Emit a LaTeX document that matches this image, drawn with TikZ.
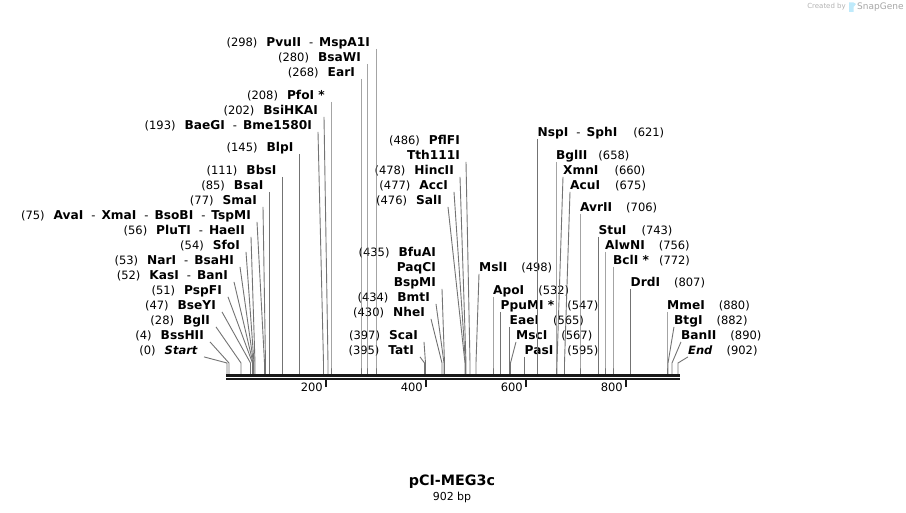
\documentclass[tikz,border=0pt]{standalone}
\usepackage{fontspec}
\setmainfont{DejaVu Sans}[BoldFeatures={Scale=1.06}]
\usetikzlibrary{positioning}

\begin{document}
\begin{tikzpicture}[x=1pt,y=-1pt,
	lab/.style={inner sep=0pt,text height=8.4pt,text depth=0pt,font=\fontsize{11.5}{13}\selectfont},
	lft/.style={lab,anchor=east},
	rgt/.style={lab,anchor=west},
	site/.style={draw=black!55,line width=0.9pt},
	tick/.style={draw=black!90,line width=1.3pt}]
	\useasboundingbox (0,0) rectangle (906,513);
	\coordinate (knee) at (0,363);
	\coordinate (b0) at (227,374);
	\coordinate (b4) at (229,374);
	\coordinate (b28) at (241,374);
	\coordinate (b47) at (250.5,374);
	\coordinate (b51) at (252.5,374);
	\coordinate (b52) at (253,374);
	\coordinate (b53) at (253.5,374);
	\coordinate (b54) at (254,374);
	\coordinate (b56) at (255,374);
	\coordinate (b75) at (264.5,374);
	\coordinate (b77) at (265.5,374);
	\coordinate (b85) at (269.5,374);
	\coordinate (b111) at (282.5,374);
	\coordinate (b145) at (299.5,374);
	\coordinate (b193) at (323.5,374);
	\coordinate (b202) at (328,374);
	\coordinate (b208) at (331,374);
	\coordinate (b268) at (361,374);
	\coordinate (b280) at (367,374);
	\coordinate (b298) at (376,374);
	\coordinate (b395) at (424.5,374);
	\coordinate (b397) at (425.5,374);
	\coordinate (b430) at (442,374);
	\coordinate (b434) at (444,374);
	\coordinate (b435) at (444.5,374);
	\coordinate (b476) at (465,374);
	\coordinate (b477) at (465.5,374);
	\coordinate (b478) at (466,374);
	\coordinate (b486) at (470,374);
	\coordinate (b498) at (476,374);
	\coordinate (b532) at (493,374);
	\coordinate (b547) at (500.5,374);
	\coordinate (b565) at (509.5,374);
	\coordinate (b567) at (510.5,374);
	\coordinate (b595) at (524.5,374);
	\coordinate (b621) at (537.5,374);
	\coordinate (b658) at (556,374);
	\coordinate (b660) at (557,374);
	\coordinate (b675) at (564.5,374);
	\coordinate (b706) at (580,374);
	\coordinate (b743) at (598.5,374);
	\coordinate (b756) at (605,374);
	\coordinate (b772) at (613,374);
	\coordinate (b807) at (630.5,374);
	\coordinate (b880) at (667,374);
	\coordinate (b882) at (668,374);
	\coordinate (b890) at (672,374);
	\coordinate (b902) at (678,374);

	\node[lft] (pvuII) at (370,42) {(298)\hspace{9pt}\textbf{PvuII}\hspace{8pt}-\hspace{6pt}\textbf{MspA1I}};
	\node[lft] (bsaWI) at (361,57) {(280)\hspace{9pt}\textbf{BsaWI}};
	\node[lft] (earI) at (355,72) {(268)\hspace{9pt}\textbf{EarI}};
	\node[lft] (pfoI) at (325,95) {(208)\hspace{9pt}\textbf{PfoI *}};
	\node[lft] (bsiHKAI) at (318,110) {(202)\hspace{9pt}\textbf{BsiHKAI}};
	\node[lft] (baeGI) at (312,125) {(193)\hspace{9pt}\textbf{BaeGI}\hspace{8pt}-\hspace{6pt}\textbf{Bme1580I}};
	\node[lft] (blpI) at (293.5,147) {(145)\hspace{9pt}\textbf{BlpI}};
	\node[lft] (bbsI) at (276.5,170) {(111)\hspace{9pt}\textbf{BbsI}};
	\node[lft] (bsaI) at (263.5,185) {(85)\hspace{9pt}\textbf{BsaI}};
	\node[lft] (smaI) at (257,200) {(77)\hspace{9pt}\textbf{SmaI}};
	\node[lft] (avaI) at (251,215) {(75)\hspace{9pt}\textbf{AvaI}\hspace{8pt}-\hspace{6pt}\textbf{XmaI}\hspace{8pt}-\hspace{6pt}\textbf{BsoBI}\hspace{8pt}-\hspace{6pt}\textbf{TspMI}};
	\node[lft] (pluTI) at (245,230) {(56)\hspace{9pt}\textbf{PluTI}\hspace{8pt}-\hspace{6pt}\textbf{HaeII}};
	\node[lft] (sfoI) at (240,245) {(54)\hspace{9pt}\textbf{SfoI}};
	\node[lft] (narI) at (234,260) {(53)\hspace{9pt}\textbf{NarI}\hspace{8pt}-\hspace{6pt}\textbf{BsaHI}};
	\node[lft] (kasI) at (228,275) {(52)\hspace{9pt}\textbf{KasI}\hspace{8pt}-\hspace{6pt}\textbf{BanI}};
	\node[lft] (pspFI) at (222,290) {(51)\hspace{9pt}\textbf{PspFI}};
	\node[lft] (bseYI) at (216,305) {(47)\hspace{9pt}\textbf{BseYI}};
	\node[lft] (bglI) at (210,320) {(28)\hspace{9pt}\textbf{BglI}};
	\node[lft] (bssHII) at (204,335) {(4)\hspace{9pt}\textbf{BssHII}};
	\node[lft] (first) at (198,350) {(0)\hspace{9pt}\textbf{\itshape Start}};

	\node[lft] (pflFI) at (460,140) {(486)\hspace{9pt}\textbf{PflFI}};
	\node[lft] (tth111I) at (460,155) {\textbf{Tth111I}};
	\node[lft] (hincII) at (454,170) {(478)\hspace{9pt}\textbf{HincII}};
	\node[lft] (accI) at (448,185) {(477)\hspace{9pt}\textbf{AccI}};
	\node[lft] (salI) at (442,200) {(476)\hspace{9pt}\textbf{SalI}};

	\node[lft] (bfuAI) at (436,252) {(435)\hspace{9pt}\textbf{BfuAI}};
	\node[lft] (paqCI) at (436,267) {\textbf{PaqCI}};
	\node[lft] (bspMI) at (436,282) {\textbf{BspMI}};
	\node[lft] (bmtI) at (430,297) {(434)\hspace{9pt}\textbf{BmtI}};
	\node[lft] (nheI) at (425,312) {(430)\hspace{9pt}\textbf{NheI}};
	\node[lft] (scaI) at (418,335) {(397)\hspace{9pt}\textbf{ScaI}};
	\node[lft] (tatI) at (414,350) {(395)\hspace{9pt}\textbf{TatI}};

	\node[rgt] (mslI) at (479,267) {\textbf{MslI}\hspace{14pt}(498)};
	\node[rgt] (apoI) at (493,290) {\textbf{ApoI}\hspace{14pt}(532)};
	\node[rgt] (ppuMI) at (500.5,305) {\textbf{PpuMI *}\hspace{13pt}(547)};
	\node[rgt] (eaeI) at (509.5,320) {\textbf{EaeI}\hspace{14pt}(565)};
	\node[rgt] (mscI) at (516,335) {\textbf{MscI}\hspace{14pt}(567)};
	\node[rgt] (pasI) at (524.5,350) {\textbf{PasI}\hspace{14pt}(595)};

	\node[rgt] (nspI) at (537.5,132) {\textbf{NspI}\hspace{8pt}-\hspace{6pt}\textbf{SphI}\hspace{16pt}(621)};
	\node[rgt] (bglII) at (556,155) {\textbf{BglII}\hspace{11pt}(658)};
	\node[rgt] (xmnI) at (563,170) {\textbf{XmnI}\hspace{16pt}(660)};
	\node[rgt] (acuI) at (570,185) {\textbf{AcuI}\hspace{15pt}(675)};
	\node[rgt] (avrII) at (580,207) {\textbf{AvrII}\hspace{14pt}(706)};
	\node[rgt] (stuI) at (598.5,230) {\textbf{StuI}\hspace{15pt}(743)};
	\node[rgt] (alwNI) at (605,245) {\textbf{AlwNI}\hspace{14pt}(756)};
	\node[rgt] (bclI) at (613,260) {\textbf{BclI *}\hspace{10pt}(772)};
	\node[rgt] (drdI) at (630.5,282) {\textbf{DrdI}\hspace{14pt}(807)};
	\node[rgt] (mmeI) at (667,305) {\textbf{MmeI}\hspace{14pt}(880)};
	\node[rgt] (btgI) at (674,320) {\textbf{BtgI}\hspace{14pt}(882)};
	\node[rgt] (banII) at (681,335) {\textbf{BanII}\hspace{14pt}(890)};
	\node[rgt] (last) at (688,350) {\textbf{\itshape End}\hspace{14pt}(902)};

	\draw[site] ([shift={(6pt,-2.5pt)}]pvuII.south east) -- (b298 |- knee) -- (b298);
	\draw[site] ([shift={(6pt,-2.5pt)}]bsaWI.south east) -- (b280 |- knee) -- (b280);
	\draw[site] ([shift={(6pt,-2.5pt)}]earI.south east) -- (b268 |- knee) -- (b268);
	\draw[site] ([shift={(6pt,-2.5pt)}]pfoI.south east) -- (b208 |- knee) -- (b208);
	\draw[site] ([shift={(6pt,-2.5pt)}]bsiHKAI.south east) -- (b202 |- knee) -- (b202);
	\draw[site] ([shift={(6pt,-2.5pt)}]baeGI.south east) -- (b193 |- knee) -- (b193);
	\draw[site] ([shift={(6pt,-2.5pt)}]blpI.south east) -- (b145 |- knee) -- (b145);
	\draw[site] ([shift={(6pt,-2.5pt)}]bbsI.south east) -- (b111 |- knee) -- (b111);
	\draw[site] ([shift={(6pt,-2.5pt)}]bsaI.south east) -- (b85 |- knee) -- (b85);
	\draw[site] ([shift={(6pt,-2.5pt)}]smaI.south east) -- (b77 |- knee) -- (b77);
	\draw[site] ([shift={(6pt,-2.5pt)}]avaI.south east) -- (b75 |- knee) -- (b75);
	\draw[site] ([shift={(6pt,-2.5pt)}]pluTI.south east) -- (b56 |- knee) -- (b56);
	\draw[site] ([shift={(6pt,-2.5pt)}]sfoI.south east) -- (b54 |- knee) -- (b54);
	\draw[site] ([shift={(6pt,-2.5pt)}]narI.south east) -- (b53 |- knee) -- (b53);
	\draw[site] ([shift={(6pt,-2.5pt)}]kasI.south east) -- (b52 |- knee) -- (b52);
	\draw[site] ([shift={(6pt,-2.5pt)}]pspFI.south east) -- (b51 |- knee) -- (b51);
	\draw[site] ([shift={(6pt,-2.5pt)}]bseYI.south east) -- (b47 |- knee) -- (b47);
	\draw[site] ([shift={(6pt,-2.5pt)}]bglI.south east) -- (b28 |- knee) -- (b28);
	\draw[site] ([shift={(6pt,-2.5pt)}]bssHII.south east) -- (b4 |- knee) -- (b4);
	\draw[site] ([shift={(6pt,-2.5pt)}]first.south east) -- (b0 |- knee) -- (b0);
	\draw[site] ([shift={(6pt,-2.5pt)}]tth111I.south east) -- (b486 |- knee) -- (b486);
	\draw[site] ([shift={(6pt,-2.5pt)}]hincII.south east) -- (b478 |- knee) -- (b478);
	\draw[site] ([shift={(6pt,-2.5pt)}]accI.south east) -- (b477 |- knee) -- (b477);
	\draw[site] ([shift={(6pt,-2.5pt)}]salI.south east) -- (b476 |- knee) -- (b476);
	\draw[site] ([shift={(6pt,-2.5pt)}]bspMI.south east) -- (b435 |- knee) -- (b435);
	\draw[site] ([shift={(6pt,-2.5pt)}]bmtI.south east) -- (b434 |- knee) -- (b434);
	\draw[site] ([shift={(6pt,-2.5pt)}]nheI.south east) -- (b430 |- knee) -- (b430);
	\draw[site] ([shift={(6pt,-2.5pt)}]scaI.south east) -- (b397 |- knee) -- (b397);
	\draw[site] ([shift={(6pt,-2.5pt)}]tatI.south east) -- (b395 |- knee) -- (b395);
	\draw[site] ([yshift=-2.5pt]mslI.south west) -- (b498 |- knee) -- (b498);
	\draw[site] ([yshift=-2.5pt]apoI.south west) -- (b532 |- knee) -- (b532);
	\draw[site] ([yshift=-2.5pt]ppuMI.south west) -- (b547 |- knee) -- (b547);
	\draw[site] ([yshift=-2.5pt]eaeI.south west) -- (b565 |- knee) -- (b565);
	\draw[site] ([yshift=-2.5pt]mscI.south west) -- (b567 |- knee) -- (b567);
	\draw[site] ([yshift=-2.5pt]pasI.south west) -- (b595 |- knee) -- (b595);
	\draw[site] ([yshift=-2.5pt]nspI.south west) -- (b621 |- knee) -- (b621);
	\draw[site] ([yshift=-2.5pt]bglII.south west) -- (b658 |- knee) -- (b658);
	\draw[site] ([yshift=-2.5pt]xmnI.south west) -- (b660 |- knee) -- (b660);
	\draw[site] ([yshift=-2.5pt]acuI.south west) -- (b675 |- knee) -- (b675);
	\draw[site] ([yshift=-2.5pt]avrII.south west) -- (b706 |- knee) -- (b706);
	\draw[site] ([yshift=-2.5pt]stuI.south west) -- (b743 |- knee) -- (b743);
	\draw[site] ([yshift=-2.5pt]alwNI.south west) -- (b756 |- knee) -- (b756);
	\draw[site] ([yshift=-2.5pt]bclI.south west) -- (b772 |- knee) -- (b772);
	\draw[site] ([yshift=-2.5pt]drdI.south west) -- (b807 |- knee) -- (b807);
	\draw[site] ([yshift=-2.5pt]mmeI.south west) -- (b880 |- knee) -- (b880);
	\draw[site] ([yshift=-2.5pt]btgI.south west) -- (b882 |- knee) -- (b882);
	\draw[site] ([yshift=-2.5pt]banII.south west) -- (b890 |- knee) -- (b890);
	\draw[site] ([yshift=-2.5pt]last.south west) -- (b902 |- knee) -- (b902);

	\draw[black!90,line width=2.7pt] (226,375.3) -- (679.5,375.3);
	\draw[black!90,line width=2.6pt] (226,379) -- (679.5,379);
	\draw[tick] (326,380) -- (326,387);
	\node[lft] (t200) at (323,387) {200};
	\draw[tick] (426,380) -- (426,387);
	\node[lft] (t400) at (423,387) {400};
	\draw[tick] (526,380) -- (526,387);
	\node[lft] (t600) at (523,387) {600};
	\draw[tick] (626,380) -- (626,387);
	\node[lft] (t800) at (623,387) {800};

	\node[font=\bfseries\fontsize{13.5}{15}\selectfont] (title) at (452,482) {pCI-MEG3c};
	\node[font=\fontsize{11}{13}\selectfont] (size) at (452,497) {902 bp};

	\node[anchor=east,inner sep=0pt,text=black!30,font=\fontsize{7}{8}\selectfont] (made) at (846,7) {Created by};
	\fill[cyan!25] (849,2.5) rectangle (853.5,12) (853.5,2.5) -- (856,4) -- (853.5,7) -- cycle;
	\node[anchor=west,inner sep=0pt,text=black!35,font=\fontsize{9}{10}\selectfont] (snap) at (857,7) {SnapGene};
\end{tikzpicture}
\end{document}
